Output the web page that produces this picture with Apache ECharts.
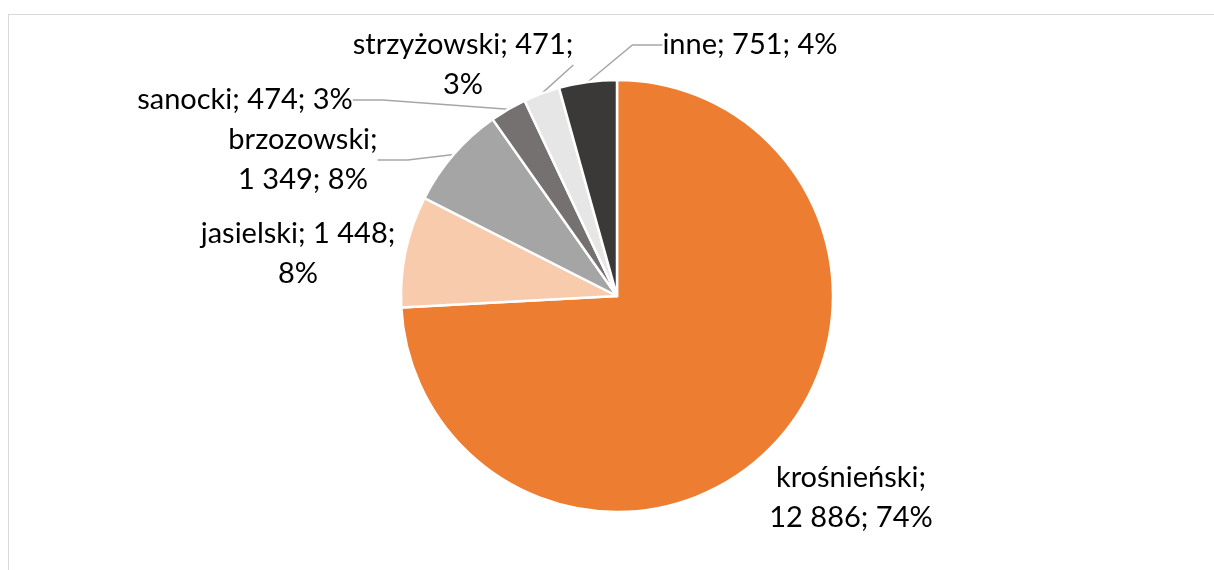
<!DOCTYPE html>
<html>
<head>
<meta charset="utf-8">
<script src="https://cdn.jsdelivr.net/npm/echarts@6/dist/echarts.min.js"></script>
<style>
    html, body { margin: 0; padding: 0; background: #fff; }
    #frame {
        position: absolute; left: 8px; top: 14px;
        width: 1210px; height: 600px;
        border: 1px solid #d9d9d9; box-sizing: border-box;
    }
    #chart { position: absolute; left: 0; top: 0; width: 1214px; height: 570px; }
</style>
</head>
<body>
<div id="frame"></div>
<div id="chart"></div>
<script>
// powiaty i liczba osób
const categories = ['krośnieński', 'jasielski', 'brzozowski', 'sanocki', 'strzyżowski', 'inne'];
const values = [12886, 1448, 1349, 474, 471, 751];
const colors = ['#ED7D31', '#F8CBAD', '#A5A5A5', '#767171', '#E7E6E6', '#3B3838'];

// label centres, where each label breaks, and which get a leader line
const labelPos = [
    [851, 498], [298, 254], [303, 160], [245, 100], [463, 65], [750, 45]
];
const breakAfter = [1, 2, 1, 0, 2, 0];
const showLine = [false, false, true, true, true, true];

const total = values.reduce((a, b) => a + b, 0);
const fmtNum = v => String(v).replace(/\B(?=(\d{3})+(?!\d))/g, ' ');

const chart = echarts.init(document.getElementById('chart'));
chart.setOption({
    animation: false,
    series: [{
        type: 'pie',
        center: [617, 296],
        radius: 216,
        startAngle: 90,
        clockwise: true,
        data: categories.map((name, i) => ({
            name: name,
            value: values[i],
            itemStyle: { color: colors[i] },
            labelLine: { show: showLine[i] }
        })),
        itemStyle: { borderColor: '#fff', borderWidth: 2.5 },
        label: {
            show: true,
            fontFamily: 'Lato',
            fontSize: 29,
            color: '#000',
            lineHeight: 40,
            align: 'center',
            formatter: function (p) {
                const parts = [p.name, fmtNum(p.value), Math.round(p.value / total * 100) + '%'];
                const b = breakAfter[p.dataIndex];
                if (!b) return parts.join('; ');
                return parts.slice(0, b).join('; ') + ';\n' + parts.slice(b).join('; ');
            }
        },
        labelLine: {
            lineStyle: { color: '#A6A6A6', width: 1.5 }
        },
        labelLayout: function (p) {
            const pos = labelPos[p.dataIndex];
            return { x: pos[0], y: pos[1], align: 'center', verticalAlign: 'middle' };
        }
    }]
});
</script>
</body>
</html>
